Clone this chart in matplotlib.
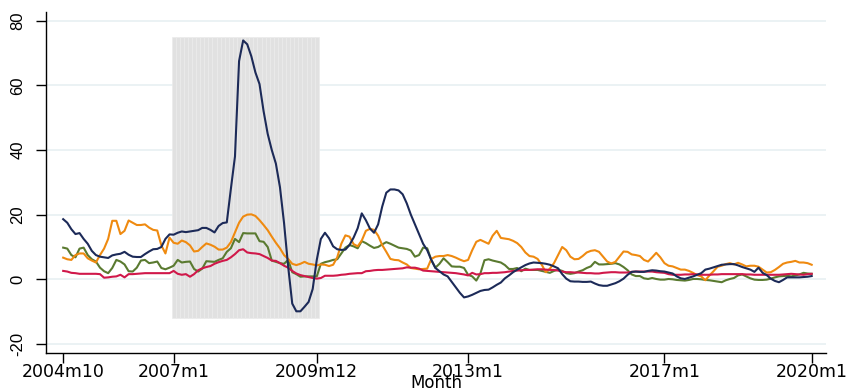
import numpy as np
import pandas as pd
import matplotlib
matplotlib.use("Agg")
import matplotlib.pyplot as plt

# Monthly observations, 2004m10 .. 2020m1
start_month = "2004-10"
end_month = "2020-01"

navy_series = [
    18.6, 17.5, 15.5, 14.0, 14.3, 12.5, 11.0, 8.8, 7.5, 7.0, 6.8, 6.6,
    7.4, 7.7, 7.9, 8.5, 7.6, 7.0, 6.9, 6.9, 7.8, 8.6, 9.3, 9.4,
    10.0, 12.5, 13.9, 13.8, 14.4, 14.8, 14.6, 14.8, 15.0, 15.2, 15.9, 15.9,
    15.3, 14.5, 16.5, 17.4, 17.6, 28.0, 38.0, 67.5, 73.9, 72.7, 69.0, 64.0,
    60.4, 52.0, 45.0, 40.0, 35.8, 28.5, 17.4, 4.0, -7.5, -9.9, -9.9, -8.5,
    -7.0, -3.0, 6.0, 12.5, 14.4, 12.7, 10.2, 9.3, 9.1, 9.2, 10.6, 12.9,
    15.8, 20.4, 18.3, 15.7, 14.4, 17.0, 22.5, 26.8, 27.8, 27.8, 27.5, 26.3,
    23.5, 20.0, 17.0, 14.0, 11.0, 9.0, 6.0, 3.5, 2.5, 1.5, 0.9, -0.8,
    -2.5, -4.2, -5.6, -5.3, -4.8, -4.2, -3.6, -3.3, -3.2, -2.5, -1.7, -1.0,
    0.3, 1.2, 2.2, 3.0, 3.7, 4.4, 4.9, 5.2, 5.1, 5.0, 4.8, 4.5,
    4.0, 3.4, 1.6, 0.2, -0.6, -0.7, -0.7, -0.8, -0.8, -0.7, -1.3, -1.8,
    -2.0, -2.0, -1.6, -1.2, -0.6, 0.2, 1.4, 2.3, 2.4, 2.3, 2.3, 2.6,
    2.8, 2.7, 2.5, 2.4, 2.1, 1.8, 0.9, 0.3, 0.1, 0.5, 0.9, 1.4,
    1.9, 3.0, 3.3, 3.7, 4.1, 4.5, 4.6, 4.7, 4.7, 4.3, 3.8, 3.4,
    3.0, 2.3, 3.6, 2.0, 1.3, 0.2, -0.5, -0.9, -0.2, 0.6, 0.6, 0.6,
    0.6, 0.7, 0.8, 1.0,
]

orange_series = [
    6.7, 6.2, 6.0, 7.5, 8.0, 8.0, 6.5, 5.8, 5.2, 7.5, 9.5, 12.5,
    18.1, 18.1, 14.0, 15.0, 18.2, 17.5, 16.8, 16.8, 17.0, 16.0, 15.3, 15.1,
    10.5, 8.0, 12.9, 11.3, 11.0, 12.0, 11.5, 10.5, 8.6, 8.8, 10.0, 11.1,
    10.7, 10.1, 9.2, 9.2, 9.8, 11.5, 14.5, 17.5, 19.4, 20.0, 20.1, 19.6,
    18.3, 16.8, 15.2, 13.2, 11.3, 9.6, 7.5, 6.3, 4.8, 4.4, 4.8, 5.4,
    4.8, 4.6, 4.3, 4.6, 4.5, 4.1, 4.5, 6.8, 11.0, 13.6, 13.2, 10.9,
    10.2, 12.0, 15.0, 15.6, 15.3, 13.5, 10.6, 8.5, 6.3, 6.0, 5.9, 5.2,
    4.6, 3.5, 3.3, 3.1, 3.2, 3.3, 6.3, 7.0, 7.2, 7.2, 7.5, 7.2,
    6.7, 6.1, 5.6, 6.0, 9.0, 11.6, 12.2, 11.6, 11.0, 13.5, 15.0, 12.8,
    12.6, 12.4, 11.9, 11.2, 10.0, 8.3, 7.2, 7.0, 6.3, 4.5, 2.2, 3.3,
    5.0, 7.5, 10.0, 9.0, 7.0, 6.2, 6.3, 7.2, 8.3, 8.8, 9.0, 8.5,
    7.0, 5.5, 4.9, 5.4, 7.0, 8.6, 8.5, 7.7, 7.5, 7.2, 6.0, 5.5,
    6.8, 8.2, 6.8, 5.0, 4.2, 4.0, 3.5, 3.0, 3.0, 2.6, 2.0, 1.3,
    0.9, -0.3, 1.2, 2.5, 3.9, 4.2, 4.7, 5.0, 4.6, 5.1, 4.6, 4.0,
    4.2, 4.2, 3.9, 3.0, 2.1, 2.2, 2.9, 3.8, 4.8, 5.2, 5.4, 5.7,
    5.2, 5.2, 5.0, 4.5,
]

green_series = [
    9.8, 9.5, 7.5, 6.8, 9.5, 9.8, 7.5, 6.2, 5.5, 3.6, 2.5, 1.9,
    3.5, 6.0, 5.5, 4.6, 2.5, 2.4, 3.6, 5.8, 6.0, 5.0, 5.2, 5.5,
    3.5, 3.1, 3.6, 4.2, 6.0, 5.2, 5.4, 5.5, 3.2, 2.4, 3.3, 5.6,
    5.5, 5.4, 6.0, 6.5, 8.5, 9.6, 12.5, 11.5, 14.3, 14.2, 14.2, 14.2,
    11.8, 11.6, 10.0, 5.8, 5.4, 5.0, 4.8, 6.0, 2.2, 1.6, 0.8, 0.9,
    0.9, 0.9, 0.9, 4.8, 5.3, 5.6, 6.0, 6.2, 8.0, 9.8, 10.6, 10.2,
    9.6, 11.8, 11.2, 10.4, 9.7, 10.0, 10.8, 11.5, 11.0, 10.4, 9.8, 9.6,
    9.4, 8.9, 7.0, 7.5, 9.8, 9.6, 6.0, 3.6, 4.8, 6.5, 5.3, 4.0,
    3.9, 3.9, 3.5, 1.4, 0.9, -0.4, 1.8, 5.9, 6.2, 5.8, 5.5, 5.2,
    4.4, 3.2, 3.2, 3.5, 2.5, 3.3, 2.9, 2.9, 2.9, 2.6, 2.3, 2.0,
    2.6, 3.0, 2.6, 1.9, 1.7, 1.9, 2.4, 2.8, 3.5, 4.0, 5.4, 4.6,
    4.6, 4.7, 4.8, 5.0, 4.6, 3.8, 2.8, 1.5, 1.0, 1.0, 0.3, 0.1,
    0.4, 0.1, -0.1, -0.1, 0.1, 0.0, -0.2, -0.3, -0.4, -0.2, 0.1, 0.1,
    0.0, -0.2, -0.3, -0.5, -0.7, -0.9, -0.3, 0.1, 0.4, 1.2, 1.5, 0.9,
    0.3, -0.1, -0.2, -0.2, -0.1, 0.2, 0.6, 0.9, 1.0, 1.1, 0.9, 1.2,
    1.5, 2.0, 1.8, 1.7,
]

red_series = [
    2.6, 2.4, 2.0, 1.9, 1.7, 1.7, 1.7, 1.7, 1.7, 1.6, 0.5, 0.6,
    0.8, 0.9, 1.4, 0.6, 1.6, 1.6, 1.7, 1.8, 1.9, 1.9, 1.9, 1.9,
    1.9, 1.9, 1.9, 2.6, 1.7, 1.4, 1.6, 0.8, 1.6, 2.8, 3.4, 3.8,
    4.1, 4.8, 5.3, 5.7, 6.0, 6.8, 7.8, 9.0, 9.3, 8.3, 8.1, 8.0,
    7.8, 7.2, 6.6, 5.8, 5.7, 5.0, 4.2, 3.6, 2.6, 1.8, 1.3, 1.0,
    0.7, 0.4, 0.2, 0.4, 1.1, 1.1, 1.1, 1.2, 1.4, 1.5, 1.7, 1.8,
    1.9, 1.9, 2.5, 2.6, 2.8, 2.9, 2.9, 3.0, 3.1, 3.2, 3.3, 3.4,
    3.7, 3.6, 3.6, 3.3, 2.7, 2.6, 2.5, 2.4, 2.3, 2.2, 2.1, 2.0,
    1.9, 1.7, 1.5, 1.2, 2.0, 1.5, 1.6, 1.9, 1.9, 2.0, 2.0, 2.1,
    2.2, 2.4, 2.6, 2.7, 2.8, 2.9, 2.9, 3.0, 3.1, 3.1, 3.0, 2.9,
    2.9, 2.7, 2.4, 2.2, 2.2, 2.1, 2.1, 2.0, 1.9, 1.9, 1.8, 1.8,
    2.0, 2.1, 2.2, 2.2, 2.1, 2.1, 2.1, 2.3, 2.4, 2.4, 2.4, 2.4,
    2.4, 2.2, 2.1, 2.0, 1.6, 1.4, 1.4, 1.4, 1.5, 1.5, 1.6, 1.5,
    1.4, 1.4, 1.4, 1.5, 1.5, 1.6, 1.6, 1.6, 1.6, 1.6, 1.6, 1.5,
    1.5, 1.4, 1.4, 1.4, 1.4, 1.4, 1.4, 1.4, 1.5, 1.6, 1.7, 1.6,
    1.5, 1.4, 1.6, 1.7,
]

# Crisis window shown as a shaded band of monthly bars
crisis_start = "2007m1"
crisis_end = "2009m12"
crisis_low = -12
crisis_high = 75

tick_labels = ["2004m10", "2007m1", "2009m12", "2013m1", "2017m1", "2020m1"]
y_ticks = [-20, 0, 20, 40, 60, 80]
x_title = "Month"

periods = pd.period_range(start_month, end_month, freq="M")
month_names = [f"{p.year}m{p.month}" for p in periods]
idx = np.arange(len(periods))
pos = {name: i for i, name in enumerate(month_names)}

W, H = 847, 390
fig = plt.figure(figsize=(W / 100, H / 100), dpi=100)
ax = fig.add_axes([46 / W, 1 - 353 / H, (826 - 46) / W, (353 - 12) / H])

# shaded crisis band
band = idx[pos[crisis_start]: pos[crisis_end] + 1]
ax.bar(band, crisis_high - crisis_low, bottom=crisis_low, width=1.0,
       color="#e1e1e1", edgecolor="#ebebeb", linewidth=0.5, zorder=1)

ax.plot(idx, green_series, color="#5a7a30", lw=1.5, zorder=3)
ax.plot(idx, orange_series, color="#ef8a10", lw=1.5, zorder=4)
ax.plot(idx, red_series, color="#d0184a", lw=1.5, zorder=5)
ax.plot(idx, navy_series, color="#1c2a58", lw=1.5, zorder=6)

ax.set_xlim(-4.2, 186.5)
ax.set_ylim(-22.8, 82.7)

ax.set_yticks(y_ticks)
ax.set_yticklabels([str(v) for v in y_ticks], rotation=90, va="center",
                   family="Liberation Sans", fontsize=12)
ax.set_xticks([pos[t] for t in tick_labels])
ax.set_xticklabels(tick_labels, family="DejaVu Sans", fontsize=12.5)

ax.yaxis.grid(True, color="#e8f0f2", lw=1.2, zorder=0)
ax.set_axisbelow(True)

for side in ("top", "right"):
    ax.spines[side].set_visible(False)
for side in ("left", "bottom"):
    ax.spines[side].set_linewidth(1.0)
    ax.spines[side].set_color("black")

ax.tick_params(axis="both", direction="out", length=7, width=1, color="black")
ax.tick_params(axis="x", pad=0)
ax.tick_params(axis="y", pad=8)

# axis title placed just below the tick labels
fig.text((46 + 0.5 * (826 - 46)) / W, 1 - 387.5 / H, x_title,
         family="DejaVu Sans", fontsize=12, ha="center", va="baseline")

fig.savefig("out.png", dpi=100)
